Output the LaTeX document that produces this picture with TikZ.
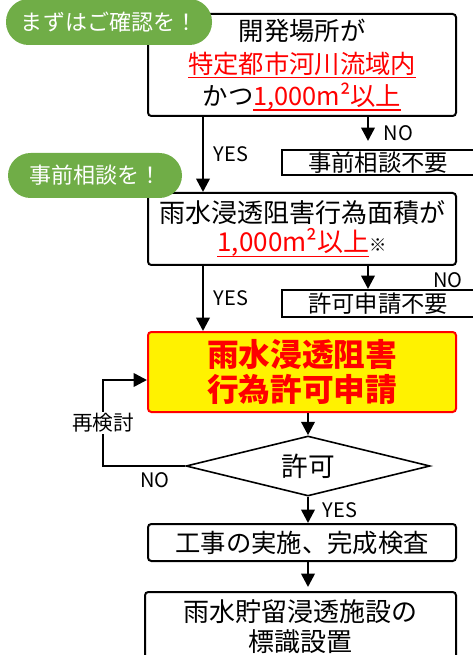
\documentclass[tikz,border=0pt]{standalone}
\usepackage{fontspec}
\setmainfont{Noto Sans CJK JP}
\usepackage{tikz}
\usetikzlibrary{%
   arrows.meta,%
   shapes.geometric}

\definecolor{pillgreen}{HTML}{70AD47}
\newcommand{\fs}[2]{\fontsize{#1}{#2}\selectfont}
\newsavebox{\ulbox}
\newcommand{\ulred}[1]{\sbox{\ulbox}{#1}\leavevmode\rlap{\rule[-0.2em]{\wd\ulbox}{1.1pt}}\usebox{\ulbox}}

\begin{document}
\begin{tikzpicture}
   [x=0.75pt,y=-0.75pt,>={Triangle[length=10pt,width=10pt]},
   every node/.style={inner sep=0pt},
   flowbox/.style={draw,line width=1.5pt,rounded corners=2.5pt,fill=white,align=center,minimum width=231pt},
   skipbox/.style={draw,line width=1.5pt,fill=white,minimum width=144pt,font=\fs{17.5}{18}},
   pill/.style={fill=pillgreen,rounded corners=17pt,text=white,font=\fs{16.5}{17}},
   flow/.style={->,line width=1.9pt},
   yesno/.style={font=\fs{15}{15}}]
   \useasboundingbox (0,0) rectangle (472,655);
   \coordinate (yescol) at (203,0);
   \coordinate (nocol) at (368,0);
   \coordinate (loopcol) at (103,0);
   % check and consultation
   \node [flowbox,minimum height=76.5pt,font=\fs{19}{24.4}] (area) at (302,65)
   {開発場所が\\\textcolor{red}{\ulred{特定都市河川流域内}}\\かつ\textcolor{red}{\ulred{1,000m²以上}}};
   \node [pill,minimum width=154.5pt,minimum height=34.5pt] (check) at (109,22) {まずはご確認を！};
   \node [skipbox,minimum height=18.75pt] (noconsult) at (378,162.5) {事前相談不要};
   \node [flowbox,minimum height=54pt,font=\fs{19.5}{21.75}] (size) at (302,229)
   {雨水浸透阻害行為面積が\\\textcolor{red}{\ulred{1,000m²以上}}{\fs{13}{13}※}};
   \node [pill,minimum width=130.5pt,minimum height=33.75pt] (consult) at (95,175.5) {事前相談を！};
   \node [skipbox,minimum height=20.25pt] (nopermit) at (378,303.5) {許可申請不要};
   % application and permit
   \node [flowbox,draw=red,fill=yellow,minimum height=60pt,text=red,font=\fs{23.75}{26.25}\bfseries] (apply) at (302,372)
   {雨水浸透阻害\\行為許可申請};
   \node [draw,diamond,aspect=4,line width=1.2pt,minimum width=183pt,minimum height=45pt,font=\fs{20}{20}] (permit) at (308,466) {許可};
   \node [flowbox,minimum height=27.75pt,font=\fs{19}{20}] (work) at (302,542.5) {工事の実施、完成検査};
   \node [flowbox,minimum width=233.25pt,minimum height=52.5pt,font=\fs{19.5}{22.5}] (sign) at (300.5,627)
   {雨水貯留浸透施設の\\標識設置};
   \node [yesno] (no2) at (448,280) {NO};
   % connectors
   \draw [flow] (area.south -| yescol) -- node [yesno,right=7pt] {YES} (size.north -| yescol);
   \draw [flow,shorten >=6pt] (area.south -| nocol) -- node [yesno,right=11pt] {NO} (noconsult.north -| nocol);
   \draw [flow] (size.south -| yescol) -- node [yesno,right=7pt] {YES} (apply.north -| yescol);
   \draw [flow] (size.south -| nocol) -- (nopermit.north -| nocol);
   \draw [flow] (apply.south -| permit) -- (permit.north);
   \draw [flow] (permit.west) -- node [yesno,pos=.37,below=4pt] {NO} (permit.west -| loopcol)
   |- node [pos=.25,fill=white,inner sep=1pt,font=\fs{15.5}{16}] {再検討} ([yshift=-6pt]apply.west);
   \draw [flow] (permit.south) -- node [yesno,right=10pt] {YES} (permit.south |- work.north);
   \draw [flow,shorten >=3pt] (work.south -| permit) -- (sign.north -| permit);
\end{tikzpicture}
\end{document}
